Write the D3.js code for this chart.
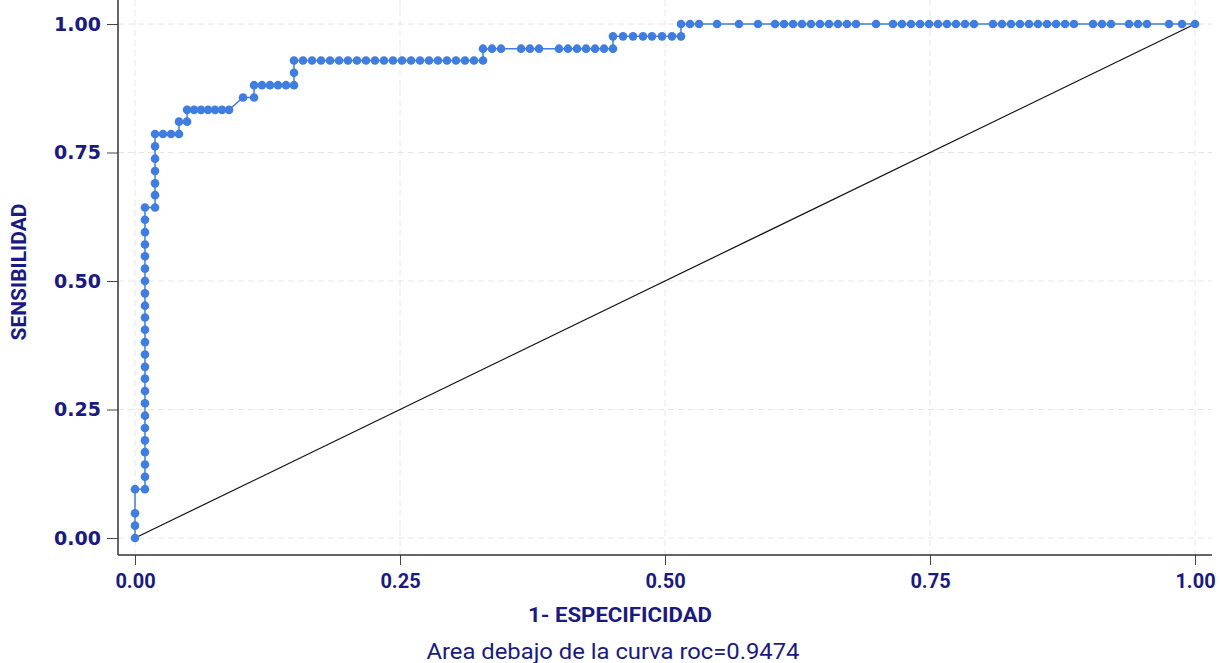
<!DOCTYPE html>
<html>
<head>
<meta charset="utf-8">
<script src="https://cdn.jsdelivr.net/npm/d3@7"></script>
<style>
  body { margin: 0; background: #fff; }
  .tick text { fill: #1a1a80; }
</style>
</head>
<body>
<div id="chart"></div>
<script>
// ROC points (1 - specificidad, sensibilidad)
var fpr = [
  0, 0, 0, 0,
  .0094, .0094, .0094, .0094, .0094, .0094, .0094, .0094, .0094, .0094, .0094, .0094,
  .0094, .0094, .0094, .0094, .0094, .0094, .0094, .0094, .0094, .0094, .0094, .0094,
  .0189, .0189, .0189, .0189, .0189, .0189, .0189,
  .0264, .0340, .0415,
  .0415, .0491,
  .0491, .0557, .0623, .0689, .0755, .0821, .0887,
  .1019, .1123,
  .1123, .1198, .1274, .1349, .1425, .1500,
  .1500,
  .1500, .1585, .1670, .1755, .1840, .1925, .2009, .2094, .2179, .2264, .2349,
  .2434, .2519, .2604, .2689, .2774, .2858, .2943, .3028, .3113, .3198, .3283,
  .3283, .3368, .3453, .3642, .3726, .3811, .4000, .4085, .4170, .4255, .4340, .4425, .4509,
  .4509, .4604, .4698, .4792, .4877, .4972, .5066, .5151,
  .5151, .5236, .5321, .5491, .5698, .5877,
  .6038, .6123, .6208, .6292, .6377, .6462, .6547, .6632, .6717, .6802,
  .6991,
  .7151, .7236, .7321, .7406, .7491, .7575, .7660, .7745, .7830, .7915,
  .8094, .8179, .8264, .8349, .8434, .8519, .8604, .8689, .8774, .8858,
  .9038, .9123, .9208, .9377, .9462, .9547, .9755, .9877, 1
];
var tpr = [
  0, .024, .048, .095,
  .095, .119, .143, .167, .190, .214, .238, .262, .286, .310, .333, .357,
  .381, .405, .429, .452, .476, .500, .524, .548, .571, .595, .619, .643,
  .643, .667, .690, .714, .738, .762, .786,
  .786, .786, .786,
  .810, .810,
  .833, .833, .833, .833, .833, .833, .833,
  .857, .857,
  .881, .881, .881, .881, .881, .881,
  .905,
  .929, .929, .929, .929, .929, .929, .929, .929, .929, .929, .929,
  .929, .929, .929, .929, .929, .929, .929, .929, .929, .929, .929,
  .952, .952, .952, .952, .952, .952, .952, .952, .952, .952, .952, .952, .952,
  .976, .976, .976, .976, .976, .976, .976, .976,
  1, 1, 1, 1, 1, 1,
  1, 1, 1, 1, 1, 1, 1, 1, 1, 1,
  1,
  1, 1, 1, 1, 1, 1, 1, 1, 1, 1,
  1, 1, 1, 1, 1, 1, 1, 1, 1, 1,
  1, 1, 1, 1, 1, 1, 1, 1, 1
];
var ticks = [0, 0.25, 0.5, 0.75, 1];
var xTitle = "1- ESPECIFICIDAD",
  yTitle = "SENSIBILIDAD",
  note = "Area debajo de la curva roc=0.9474";

var width = 1220,
  height = 663,
  navy = "#1a1a80",
  blue = "#3f7de0",
  svg = d3.select("#chart")
    .append("svg")
    .attr("width", width)
    .attr("height", height),
  x = d3.scaleLinear().domain([0, 1]).range([135, 1195]),
  y = d3.scaleLinear().domain([0, 1]).range([538, 24]),
  left = 118, bottom = 555, top = 10, right = 1212;

var points = fpr.map(function (f, i) { return { f: f, t: tpr[i] }; });

// faint grid
svg.append("g").selectAll("line.gx")
  .data(ticks).enter().append("line")
  .attr("x1", function (d) { return x(d); }).attr("x2", function (d) { return x(d); })
  .attr("y1", top).attr("y2", bottom)
  .attr("stroke", "#e6e6e6").attr("stroke-dasharray", "6,4");
svg.append("g").selectAll("line.gy")
  .data(ticks).enter().append("line")
  .attr("x1", left).attr("x2", right)
  .attr("y1", function (d) { return y(d); }).attr("y2", function (d) { return y(d); })
  .attr("stroke", "#e6e6e6").attr("stroke-dasharray", "6,4");

// axes
var yAxis = svg.append("g")
  .attr("transform", "translate(" + left + ",0)")
  .call(d3.axisLeft(y).tickValues(ticks).tickFormat(d3.format(".2f"))
    .tickSize(11).tickPadding(6).tickSizeOuter(0));
yAxis.select(".domain").remove();
yAxis.selectAll(".tick line").attr("stroke", "#444");
yAxis.selectAll(".tick text")
  .attr("font-family", "DejaVu Sans").attr("font-weight", "bold").attr("font-size", "19px");

var xAxis = svg.append("g")
  .attr("transform", "translate(0," + bottom + ")")
  .call(d3.axisBottom(x).tickValues(ticks).tickFormat(d3.format(".2f"))
    .tickSize(10).tickPadding(9).tickSizeOuter(0));
xAxis.select(".domain").remove();
xAxis.selectAll(".tick line").attr("stroke", "#444");
xAxis.selectAll(".tick text")
  .attr("font-family", "Roboto").attr("font-weight", "bold").attr("font-size", "20px");

svg.append("line").attr("x1", left).attr("x2", left).attr("y1", top).attr("y2", bottom)
  .attr("stroke", "#333").attr("stroke-width", 1.5);
svg.append("line").attr("x1", left).attr("x2", right).attr("y1", bottom).attr("y2", bottom)
  .attr("stroke", "#333").attr("stroke-width", 1.5);

// reference diagonal
svg.append("line")
  .attr("x1", x(0)).attr("y1", y(0)).attr("x2", x(1)).attr("y2", y(1))
  .attr("stroke", "#111").attr("stroke-width", 1.2);

// roc curve
var line = d3.line()
  .x(function (d) { return x(d.f); })
  .y(function (d) { return y(d.t); });
svg.append("path").datum(points)
  .attr("d", line)
  .attr("fill", "none").attr("stroke", blue).attr("stroke-width", 1.5);
svg.append("g").selectAll("circle")
  .data(points).enter().append("circle")
  .attr("cx", function (d) { return x(d.f); })
  .attr("cy", function (d) { return y(d.t); })
  .attr("r", 4.3)
  .attr("fill", blue);

// titles
svg.append("text")
  .attr("x", 620).attr("y", 622).attr("text-anchor", "middle")
  .attr("font-family", "Roboto").attr("font-weight", "bold").attr("font-size", "21px")
  .attr("textLength", 184).attr("lengthAdjust", "spacingAndGlyphs")
  .attr("fill", navy).text(xTitle);
svg.append("text")
  .attr("x", 613).attr("y", 659).attr("text-anchor", "middle")
  .attr("font-family", "Roboto").attr("font-size", "22px")
  .attr("textLength", 373).attr("lengthAdjust", "spacingAndGlyphs")
  .attr("fill", navy).text(note);
svg.append("text")
  .attr("transform", "translate(26,272) rotate(-90)").attr("text-anchor", "middle")
  .attr("font-family", "Roboto").attr("font-weight", "bold").attr("font-size", "20px")
  .attr("textLength", 137).attr("lengthAdjust", "spacingAndGlyphs")
  .attr("fill", navy).text(yTitle);
</script>
</body>
</html>
